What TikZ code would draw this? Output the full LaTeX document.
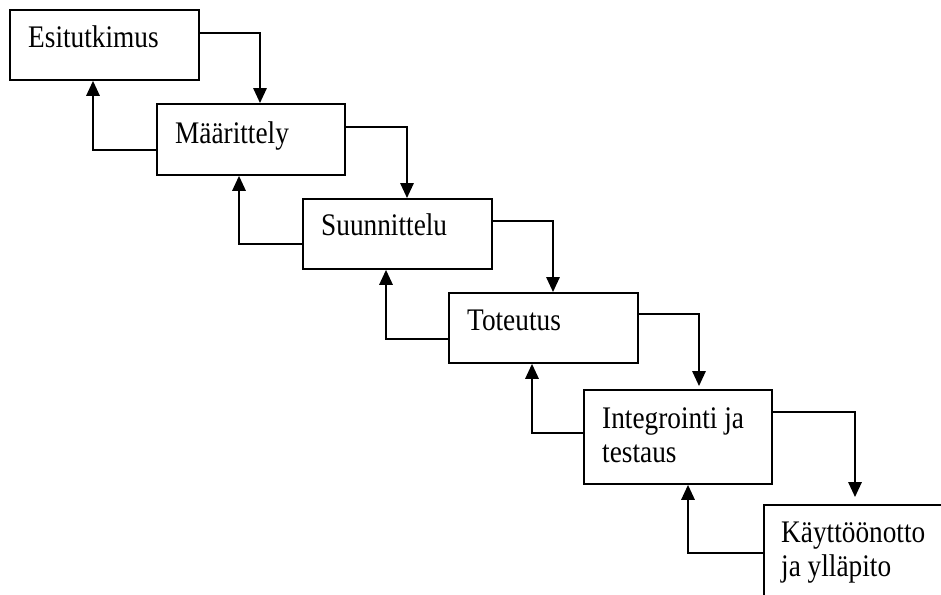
\documentclass[tikz,border=0pt]{standalone}
\usepackage{fontspec}
\usepackage{graphicx}
\setmainfont{Liberation Serif}
\usetikzlibrary{arrows.meta,calc}

% text of a phase, set slightly tall, first baseline on the anchor
\newcommand{\phasetext}[1]{\scalebox{1}[1.15]{\fontsize{27.3}{30.4}\selectfont\begin{tabular}[t]{@{}l@{}}#1\end{tabular}}}

\tikzset{
  phase/.style={draw, line width=1.9pt, rectangle, anchor=north west, inner sep=0pt,
                minimum width=189pt, minimum height=70pt},
  phaselabel/.style={anchor=base west, inner sep=0pt},
  conn/.style={line width=1.6pt, -{Triangle[width=13.5pt,length=15pt]}},
}

\begin{document}
\begin{tikzpicture}[x=1pt, y=-1pt]
  \useasboundingbox (0,0) rectangle (941,594);
  \clip (0,0) rectangle (941,594);

  % phase boxes
  \node[phase] (b1) at (9,9) {};
  \node[phase, minimum width=188pt, minimum height=71pt] (b2) at (156,103) {};
  \node[phase] (b3) at (302,198) {};
  \node[phase] (b4) at (448,292) {};
  \node[phase, minimum width=188pt, minimum height=94pt] (b5) at (583,389) {};
  \node[phase, minimum width=230pt, minimum height=130pt] (b6) at (763,504) {};

  % phase names
  \node[phaselabel] (t1) at ($(b1.north west)+(19,38.7)$) {\phasetext{Esitutkimus}};
  \node[phaselabel] (t2) at ($(b2.north west)+(19,40)$) {\phasetext{Määrittely}};
  \node[phaselabel] (t3) at ($(b3.north west)+(19,37.5)$) {\phasetext{Suunnittelu}};
  \node[phaselabel] (t4) at ($(b4.north west)+(19,38)$) {\phasetext{Toteutus}};
  \node[phaselabel] (t5) at ($(b5.north west)+(19,39)$) {\phasetext{Integrointi ja\\testaus}};
  \node[phaselabel] (t6) at ($(b6.north west)+(18,38)$) {\phasetext{Käyttöönotto\\ja ylläpito}};

  % forward flow: right side of each phase down into the next one
  \draw[conn] ($(b1.north east)+(0,24)$) -| ($(b2.north west)+(104,0)$);
  \draw[conn] ($(b2.north east)+(0,24)$) -| ($(b3.north west)+(105,0)$);
  \draw[conn] ($(b3.north east)+(0,23)$) -| ($(b4.north west)+(105,0)$);
  \draw[conn] ($(b4.north east)+(0,22)$) -| ($(b5.north west)+(116,-3)$);
  \draw[conn] ($(b5.north east)+(0,23)$) -| ($(b6.north west)+(92,-7)$);

  % feedback: left side of each phase back up to the previous one
  \draw[conn] ($(b2.north west)+(0,47)$) -| ($(b1.south west)+(84,0)$);
  \draw[conn] ($(b3.north west)+(0,46)$) -| ($(b2.south west)+(83,0)$);
  \draw[conn] ($(b4.north west)+(0,47)$) -| ($(b3.south west)+(84,0)$);
  \draw[conn] ($(b5.north west)+(0,44)$) -| ($(b4.south west)+(84,0)$);
  \draw[conn] ($(b6.north west)+(0,49)$) -| ($(b5.south west)+(105,0)$);
\end{tikzpicture}
\end{document}
